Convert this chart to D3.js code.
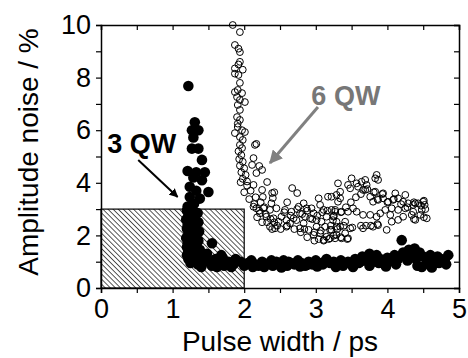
<!DOCTYPE html>
<html>
<head>
<meta charset="utf-8">
<script src="https://cdn.jsdelivr.net/npm/d3@7"></script>
<style>
  body { margin: 0; background: #fff; }
  svg text { font-family: "Liberation Sans", Arial, sans-serif; }
</style>
</head>
<body>
<svg width="468" height="358"></svg>
<script>
// x = pulse width (ps), y = amplitude noise (%)
const qw3 = [
  [1.22,7.68],[1.31,6.3],[1.36,6.0],[1.27,6.0],[1.29,5.72],[1.27,5.3],[1.36,5.3],[1.41,4.87],
  [1.21,4.45],[1.33,4.4],[1.45,4.4],[1.29,4.2],[1.41,4.1],[1.5,3.65],[1.24,3.85],[1.33,3.7],
  [1.24,3.46],[1.38,3.4],[1.21,3.1],[1.3,3.2],
  [1.2,2.95],[1.28,2.9],[1.35,2.85],[1.22,2.75],[1.31,2.7],[1.19,2.6],[1.27,2.55],[1.36,2.5],
  [1.21,2.4],[1.3,2.35],[1.2,2.25],[1.28,2.2],[1.37,2.15],[1.22,2.05],[1.31,2.0],[1.19,1.9],
  [1.27,1.85],[1.36,1.8],[1.21,1.7],[1.3,1.65],[1.2,1.55],[1.28,1.5],[1.38,1.45],[1.22,1.4],
  [1.31,1.35],[1.2,1.25],[1.28,1.2],[1.37,1.15],[1.22,1.1],[1.31,1.05],[1.25,0.95],[1.35,0.9],
  [1.42,1.0],[1.45,1.2],[1.55,1.7],[1.5,1.0],[1.55,0.85],[1.6,1.1],[1.65,0.95],[1.7,1.15],
  [1.72,0.85],[1.78,1.0],[1.85,0.9],[1.88,1.1],[1.95,1.0],[2.0,0.85],
  [2.05,0.95],[2.1,1.05],[2.15,0.9],[2.2,0.85],[2.25,1.0],[2.3,0.9],[2.35,0.95],[2.4,0.85],
  [2.45,1.0],[2.5,0.9],[2.55,1.05],[2.6,0.85],[2.65,0.95],[2.7,0.9],[2.75,1.05],[2.8,0.95],
  [2.85,0.85],[2.9,1.0],[2.95,0.9],[3.0,1.05],[3.05,0.95],[3.1,0.9],[3.15,1.1],[3.2,0.95],
  [3.25,1.0],[3.3,0.9],[3.35,1.05],[3.4,0.95],[3.45,1.0],[3.5,0.9],[3.55,1.1],[3.6,0.95],
  [3.65,1.2],[3.7,1.05],[3.75,1.3],[3.8,1.0],[3.85,1.25],[3.9,1.1],[3.95,0.95],[4.0,1.15],
  [4.05,1.05],[4.1,1.25],[4.15,1.1],[4.2,1.82],[4.22,1.35],[4.25,1.2],[4.3,1.45],[4.35,1.3],
  [4.38,1.5],[4.4,1.1],[4.45,1.35],[4.5,1.2],[4.55,1.05],[4.6,1.25],[4.65,1.0],[4.7,1.2],
  [4.75,1.1],[4.8,1.05],[4.85,1.25],
  [2.12,0.8],[2.38,1.05],[2.62,1.0],[2.88,0.88],[3.12,1.0],[3.38,0.85],[3.62,1.0],[3.88,0.95],
  [4.12,0.9],[4.28,1.05],[4.42,0.85],[4.58,0.9],[4.72,0.95],
  [1.4,0.8],[1.48,1.3],[1.62,0.8],[1.68,1.25],[1.82,0.8],[2.28,0.8],[2.52,0.78],[2.78,0.82],
  [3.02,0.82],[3.28,0.8],[3.52,0.8],[3.75,0.85],[3.98,0.82],[4.48,0.8],[4.62,0.78],[4.82,0.9]
];

const qw6 = [
  [1.84,10.0],[1.94,9.73],[1.87,9.24],[1.92,9.1],[1.94,8.97],[1.94,8.6],[1.92,8.5],[1.87,8.35],
  [1.98,8.3],[1.87,8.15],[1.92,8.1],[1.94,7.8],[1.91,7.53],[1.87,7.45],[1.97,7.41],[1.9,7.26],
  [1.94,7.15],[2.01,7.07],[1.91,6.96],[1.94,6.77],[1.9,6.5],[1.94,6.39],[1.91,6.25],[1.91,6.12],
  [1.87,5.89],[1.97,6.0],[2.01,5.93],[1.94,5.74],[1.98,5.63],[1.94,5.44],[2.15,5.44],[1.97,5.32],
  [1.92,5.2],[1.96,5.05],[1.93,4.9],[1.98,4.8],[1.94,4.65],[2.0,4.55],[1.96,4.4],[2.02,4.3],
  [1.98,4.15],[2.04,4.05],[1.95,4.02],[2.04,3.89],[2.0,3.64],[2.09,3.7],
  [2.17,5.48],[2.13,4.94],[2.11,4.68],[2.21,4.64],[2.17,4.37],[2.25,4.49],[2.32,4.03],[2.13,3.92],
  [2.25,3.73],[2.26,3.46],[2.39,3.61],[2.4,3.42],[2.67,3.8],[2.74,3.61],
  [2.16,3.45],[2.07,3.38],[2.14,3.19],[2.23,3.26],[2.28,3.07],[2.21,2.94],[2.3,2.81],[2.37,2.62],
  [2.32,2.5],[2.46,2.37],[2.39,2.24],[2.25,2.5],[2.18,2.69],[2.6,3.26],[2.42,3.64],[2.56,2.88],
  [2.38,3.22],[2.45,3.03],[2.36,2.97],[2.57,2.97],[2.27,3.03],[2.17,3.03],[2.13,3.09],[2.22,2.84],
  [2.31,2.71],[2.41,2.65],[2.52,2.71],[2.59,2.58],[2.48,2.52],[2.36,2.33],[2.43,2.27],[2.59,2.33],
  [2.64,2.46],[2.69,2.65],[2.66,2.9],[2.76,3.09],[2.83,3.22],[2.87,3.03],[2.78,2.84],[2.73,2.58],
  [2.85,2.71],[2.92,2.65],[2.83,2.46],[2.78,2.27],[2.9,2.21],[3.01,2.33],[3.01,2.58],[2.97,2.84],
  [2.94,3.03],[3.04,3.41],[3.06,3.16],[3.11,2.97],[3.15,2.71],[3.08,2.52],[3.13,2.33],[3.06,2.08],
  [2.97,2.02],[3.15,1.95],[3.2,1.89],[3.11,1.83],[3.17,3.47],[3.31,3.98],[3.29,3.54],[3.31,3.28],
  [3.27,2.97],[3.24,2.58],[3.29,2.33],[3.2,2.21],
  [2.65,2.75],[2.74,3.0],[2.81,2.81],[2.88,2.94],[2.95,2.62],[3.02,2.75],[3.09,2.88],[3.16,2.94],
  [3.25,2.75],[3.35,2.88],[3.42,3.07],[3.49,3.26],[3.56,3.45],[3.63,3.57],[3.72,3.76],[3.81,3.64],
  [3.86,3.38],[3.93,3.57],[4.0,3.26],[4.09,3.38],[4.19,3.19],[4.28,3.07],[4.37,3.26],[4.47,3.13],
  [4.53,3.0],[4.51,3.32],
  [2.42,2.5],[2.51,2.24],[2.6,2.37],[2.7,2.24],[2.79,2.12],[2.88,1.93],[2.98,1.8],[3.04,1.86],
  [3.11,1.8],[3.18,1.86],[3.25,1.99],[3.35,1.93],[3.44,1.86],[2.84,2.24],[2.98,2.12],[3.07,2.18],
  [3.21,2.37],[3.3,2.24],[3.39,2.37],[3.51,2.3],[3.63,2.37],[3.7,2.37],[3.77,2.37],[3.86,2.43],
  [4.37,2.62],[4.51,2.69],
  [3.34,3.66],[3.34,3.41],[3.22,3.47],[3.5,4.17],[3.45,3.92],[3.48,3.79],[3.57,3.98],[3.59,3.85],
  [3.64,4.04],[3.69,4.11],[3.66,3.73],[3.71,3.92],[3.69,3.73],[3.83,4.17],[3.87,4.11],[3.85,4.3],
  [3.83,3.66],[3.94,3.6],[4.11,3.6],[4.25,3.54],[4.39,3.22],
  [3.76,3.47],[3.8,3.28],[3.87,3.35],[3.94,3.41],[4.01,3.28],[4.08,3.35],[4.15,3.41],[4.22,3.28],
  [4.29,3.22],[4.36,3.16],[4.43,3.22],[4.5,3.28],[4.52,3.16],[4.48,2.97],[4.55,2.65],[4.36,2.9],
  [4.25,3.03],[4.15,2.97],[4.06,3.03],[3.97,2.97],[3.9,2.84],[3.85,2.71],[3.76,2.78],[3.66,2.78],
  [3.57,2.9],[3.52,3.03],[3.45,2.9],[3.36,2.9],[3.27,2.9],[3.22,2.97],[3.25,2.71],[3.29,2.52],
  [3.34,2.33],[3.41,2.52],[3.48,2.27],[3.41,2.08],[3.36,1.89],[3.45,1.89],[3.29,2.02],[3.22,2.21],
  [3.27,1.89],[3.66,2.27],[3.8,2.33],[3.87,2.39],[3.99,2.21],[4.06,2.52],[4.15,2.59],[4.04,2.78],
  [4.22,2.71],[4.34,2.78],[4.39,2.59],[4.46,2.78]
];

const xTicks = [0, 0.5, 1, 1.5, 2, 2.5, 3, 3.5, 4, 4.5, 5];
const yTicks = [0, 1, 2, 3, 4, 5, 6, 7, 8, 9, 10];
const box = { x0: 0, x1: 2, y0: 0, y1: 3 };   // hatched region
const label3 = { text: "3 QW", x: 0.57, y: 5.15 };
const label6 = { text: "6 QW", x: 3.42, y: 6.97 };
const arrow3 = [[0.52, 4.87], [1.07, 3.46]];
const arrow6 = [[3.03, 6.88], [2.36, 4.75]];

const svg = d3.select("svg");
const x = d3.scaleLinear().domain([0, 5]).range([101, 459]);
const y = d3.scaleLinear().domain([0, 10]).range([288, 25]);

const defs = svg.append("defs");
defs.append("pattern")
  .attr("id", "hatch").attr("patternUnits", "userSpaceOnUse")
  .attr("width", 3.6).attr("height", 3.6)
  .attr("patternTransform", "rotate(-45)")
  .append("line").attr("x1", 0).attr("y1", 0).attr("x2", 0).attr("y2", 3.6)
  .attr("stroke", "#000").attr("stroke-width", 1.3);

[["ah-black", "#000"], ["ah-grey", "#808080"]].forEach(([id, c]) => {
  defs.append("marker").attr("id", id)
    .attr("viewBox", "0 0 10 10").attr("refX", 9).attr("refY", 5)
    .attr("markerWidth", 4.5).attr("markerHeight", 4.5).attr("orient", "auto")
    .append("path").attr("d", "M0,0 L10,5 L0,10 Z").attr("fill", c);
});

// hatched box
svg.append("rect")
  .attr("x", x(box.x0)).attr("y", y(box.y1))
  .attr("width", x(box.x1) - x(box.x0)).attr("height", y(box.y0) - y(box.y1))
  .attr("fill", "url(#hatch)").attr("stroke", "#000").attr("stroke-width", 1.2);

// 6 QW open circles
svg.append("g").selectAll("circle").data(qw6).enter().append("circle")
  .attr("cx", d => x(d[0])).attr("cy", d => y(d[1]))
  .attr("r", 3.4).attr("fill", "none").attr("stroke", "#000").attr("stroke-width", 1);

// 3 QW filled circles
svg.append("g").selectAll("circle").data(qw3).enter().append("circle")
  .attr("cx", d => x(d[0])).attr("cy", d => y(d[1]))
  .attr("r", 5.3).attr("fill", "#000");

// axes
function styleAxis(g) {
  g.selectAll("path.domain").attr("stroke", "#000").attr("stroke-width", 1.5);
  g.selectAll(".tick line").attr("stroke", "#000").attr("stroke-width", 1.2);
  g.selectAll("text").attr("font-size", 27).attr("fill", "#000")
    .style("font-family", "'Liberation Sans', Arial, sans-serif");
}
const fmt = d => (d % 1 === 0 ? d : "");

svg.append("g").attr("transform", `translate(0,${y(0)})`)
  .call(d3.axisBottom(x).tickValues(xTicks).tickFormat(fmt).tickSize(5).tickPadding(6))
  .call(styleAxis);
svg.append("g").attr("transform", `translate(0,${y(10)})`)
  .call(d3.axisTop(x).tickValues(xTicks).tickFormat("").tickSize(-5))
  .call(styleAxis);
svg.append("g").attr("transform", `translate(${x(0)},0)`)
  .call(d3.axisLeft(y).tickValues(yTicks).tickFormat(d => (d % 2 === 0 ? d : "")).tickSize(5).tickPadding(5))
  .call(styleAxis);
svg.append("g").attr("transform", `translate(${x(5)},0)`)
  .call(d3.axisRight(y).tickValues(yTicks).tickFormat("").tickSize(-5))
  .call(styleAxis);

// axis titles
svg.append("text")
  .attr("x", 280).attr("y", 351).attr("text-anchor", "middle")
  .attr("font-size", 28).text("Pulse width / ps");
svg.append("text")
  .attr("transform", "translate(38,152) rotate(-90)").attr("text-anchor", "middle")
  .attr("font-size", 28).text("Amplitude noise / %");

// annotations
svg.append("line")
  .attr("x1", x(arrow3[0][0])).attr("y1", y(arrow3[0][1]))
  .attr("x2", x(arrow3[1][0])).attr("y2", y(arrow3[1][1]))
  .attr("stroke", "#000").attr("stroke-width", 2).attr("marker-end", "url(#ah-black)");
svg.append("line")
  .attr("x1", x(arrow6[0][0])).attr("y1", y(arrow6[0][1]))
  .attr("x2", x(arrow6[1][0])).attr("y2", y(arrow6[1][1]))
  .attr("stroke", "#808080").attr("stroke-width", 3).attr("marker-end", "url(#ah-grey)");

svg.append("text")
  .attr("x", x(label3.x)).attr("y", y(label3.y)).attr("text-anchor", "middle")
  .attr("font-size", 27).attr("font-weight", "bold").attr("fill", "#000").text(label3.text);
svg.append("text")
  .attr("x", x(label6.x)).attr("y", y(label6.y)).attr("text-anchor", "middle")
  .attr("font-size", 27).attr("font-weight", "bold").attr("fill", "#777").text(label6.text);
</script>
</body>
</html>
